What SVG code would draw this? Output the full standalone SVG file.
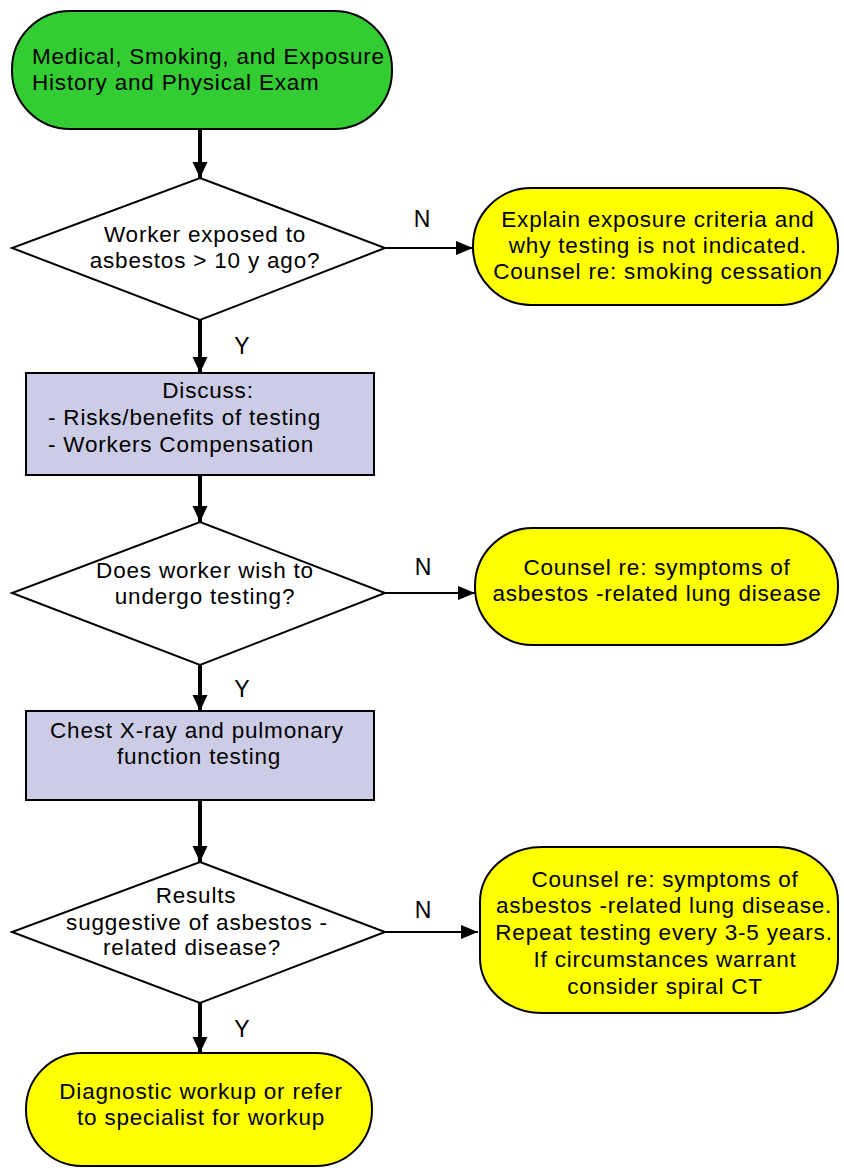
<svg xmlns="http://www.w3.org/2000/svg" width="844" height="1168" viewBox="0 0 844 1168">
<style>
text{font-family:"Liberation Sans",Arial,sans-serif;font-size:22.5px;letter-spacing:0.8px;fill:#000}
.c{text-anchor:middle}
.term{stroke:#000;stroke-width:2}
.green{fill:#33CC33}
.yellow{fill:#FFFF00}
.proc{fill:#CCCCE6;stroke:#000;stroke-width:2}
.dec{fill:#FFFFFF;stroke:#000;stroke-width:2}
.thick{stroke:#000;stroke-width:4;fill:none}
.thin{stroke:#000;stroke-width:2;fill:none}
.lbl{font-size:23px;letter-spacing:0}
</style>
<defs>
<marker id="ahv" markerUnits="userSpaceOnUse" markerWidth="16" markerHeight="16" viewBox="0 0 16 16" refX="16" refY="8" orient="auto">
<path d="M0,0.5 L16,8 L0,15.5 Z" fill="#000"/>
</marker>
<marker id="ahh" markerUnits="userSpaceOnUse" markerWidth="17" markerHeight="15" viewBox="0 0 17 15" refX="17" refY="7.5" orient="auto">
<path d="M0,0.5 L17,7.5 L0,14.5 Z" fill="#000"/>
</marker>
</defs>

<g id="connectors">
<line class="thick" x1="200" y1="129" x2="200" y2="178" marker-end="url(#ahv)"/>
<line class="thick" x1="200" y1="320" x2="200" y2="373" marker-end="url(#ahv)"/>
<line class="thick" x1="200" y1="475" x2="200" y2="522" marker-end="url(#ahv)"/>
<line class="thick" x1="200" y1="665" x2="200" y2="711" marker-end="url(#ahv)"/>
<line class="thick" x1="200" y1="800" x2="200" y2="862" marker-end="url(#ahv)"/>
<line class="thick" x1="200" y1="1003" x2="200" y2="1053" marker-end="url(#ahv)"/>
<line class="thin" x1="385" y1="248" x2="473" y2="248" marker-end="url(#ahh)"/>
<line class="thin" x1="385" y1="593" x2="475" y2="593" marker-end="url(#ahh)"/>
<line class="thin" x1="385" y1="932" x2="478" y2="932" marker-end="url(#ahh)"/>
<text class="c lbl" x="422" y="227">N</text>
<text class="c lbl" x="423" y="575">N</text>
<text class="c lbl" x="423" y="918">N</text>
<text class="c lbl" x="242" y="354">Y</text>
<text class="c lbl" x="242" y="697">Y</text>
<text class="c lbl" x="242" y="1037">Y</text>
</g>

<g id="start">
<rect class="term green" x="12" y="11" width="380" height="118" rx="58" ry="58"/>
<text x="32" y="64">Medical, Smoking, and Exposure</text>
<text x="32" y="90">History and Physical Exam</text>
</g>

<g id="decision1">
<polygon class="dec" points="200,178 385,248 200,320 12,248"/>
<text class="c" x="205" y="242">Worker exposed to</text>
<text class="c" x="205" y="268">asbestos &gt; 10 y ago?</text>
</g>

<g id="explain">
<rect class="term yellow" x="473" y="188" width="365" height="117" rx="58" ry="58"/>
<text class="c" x="658" y="227">Explain exposure criteria and</text>
<text class="c" x="658" y="253">why testing is not indicated.</text>
<text class="c" x="658" y="279">Counsel re: smoking cessation</text>
</g>

<g id="discuss">
<rect class="proc" x="26" y="373" width="348" height="102"/>
<text class="c" x="208" y="398">Discuss:</text>
<text x="48" y="425">- Risks/benefits of testing</text>
<text x="48" y="452">- Workers Compensation</text>
</g>

<g id="decision2">
<polygon class="dec" points="200,522 385,593 200,665 12,593"/>
<text class="c" x="205" y="578">Does worker wish to</text>
<text class="c" x="205" y="604">undergo testing?</text>
</g>

<g id="counsel1">
<rect class="term yellow" x="475" y="528" width="363" height="117" rx="58" ry="58"/>
<text class="c" x="657" y="575">Counsel re: symptoms of</text>
<text class="c" x="657" y="601">asbestos -related lung disease</text>
</g>

<g id="xray">
<rect class="proc" x="26" y="711" width="348" height="89"/>
<text class="c" x="197" y="738">Chest X-ray and pulmonary</text>
<text class="c" x="199" y="764">function testing</text>
</g>

<g id="decision3">
<polygon class="dec" points="200,862 385,932 200,1003 12,932"/>
<text class="c" x="196" y="903">Results</text>
<text class="c" x="197" y="930">suggestive of asbestos -</text>
<text class="c" x="192" y="955">related disease?</text>
</g>

<g id="counsel2">
<rect class="term yellow" x="480" y="847" width="358" height="166" rx="62" ry="55"/>
<text class="c" x="665" y="887">Counsel re: symptoms of</text>
<text class="c" x="664" y="913">asbestos -related lung disease.</text>
<text class="c" x="664" y="940">Repeat testing every 3-5 years.</text>
<text class="c" x="665" y="967">If circumstances warrant</text>
<text class="c" x="665" y="994">consider spiral CT</text>
</g>

<g id="workup">
<rect class="term yellow" x="26" y="1053" width="346" height="113" rx="56" ry="56"/>
<text class="c" x="201" y="1099">Diagnostic workup or refer</text>
<text class="c" x="201" y="1125">to specialist for workup</text>
</g>
</svg>
